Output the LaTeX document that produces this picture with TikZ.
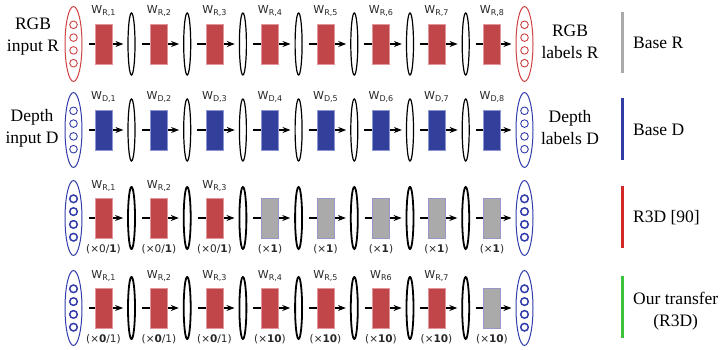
\documentclass[tikz,border=0pt]{standalone}
\usepackage{fontspec}
\setmainfont{Liberation Serif}
\newfontfamily\wfont{DejaVu Sans}
\usetikzlibrary{arrows.meta,shapes.geometric}
\definecolor{wred}{RGB}{193,70,73}
\definecolor{wredb}{RGB}{225,150,155}
\definecolor{wblue}{RGB}{51,64,155}
\definecolor{wblueb}{RGB}{140,150,210}
\definecolor{wgrey}{RGB}{170,170,170}
\definecolor{wgreyb}{RGB}{150,150,200}
\definecolor{ellR}{RGB}{205,65,65}
\definecolor{ellB}{RGB}{50,60,170}
\definecolor{barG}{RGB}{170,170,170}
\definecolor{barB}{RGB}{50,60,165}
\definecolor{barR}{RGB}{210,40,40}
\definecolor{barGr}{RGB}{60,195,60}
\newcommand{\wl}[2]{W\raisebox{-1.8pt}{\fontsize{8}{9}\selectfont #1}}
\begin{document}
\begin{tikzpicture}[x=1pt,y=-1pt,
  inell/.style={draw, ellipse, minimum width=17pt, minimum height=75pt, inner sep=0pt, line width=1pt},
  hid/.style={draw, ellipse, minimum width=7pt, minimum height=62pt, inner sep=0pt},
  wbox/.style={rectangle, minimum width=17pt, minimum height=40pt, inner sep=0pt, line width=0.5pt},
  redbox/.style={wbox, fill=wred, draw=wredb},
  bluebox/.style={wbox, fill=wblue, draw=wblueb},
  greybox/.style={wbox, fill=wgrey, draw=wgreyb},
  arr/.style={-{Stealth[length=8pt,width=6pt]}, line width=1.2pt, shorten <=6pt, shorten >=4pt},
  wlab/.style={font=\wfont\fontsize{11}{12}\selectfont, inner sep=0pt, anchor=base, text=black!85},
  mlab/.style={font=\wfont\fontsize{10.5}{12}\selectfont, inner sep=0pt, text=black!85},
  txt/.style={font=\fontsize{17.5}{22}\selectfont, align=center, inner sep=0pt},
  bar/.style={line width=3pt}]
\useasboundingbox (0,0) rectangle (724,350);

% ellipses, circles and arrows per row
\foreach \r/\Y/\ic/\hw/\cw in {1/44/ellR/1.2/0.9,2/130/ellB/1.2/0.9,3/218/ellB/1.8/1.5,4/308/ellB/1.8/1.5}{
  \node[inell, draw=\ic] (e\r-0) at (73.5,\Y) {};
  \node[inell, draw=\ic] (e\r-8) at (524.5,\Y) {};
  \foreach \k in {-1.5,-0.5,0.5,1.5}{
    \draw[\ic, line width=\cw pt] (73.5,{\Y+12.8*\k}) circle (3.8);
    \draw[\ic, line width=\cw pt] (524.5,{\Y+12.8*\k}) circle (3.8);
  }
  \foreach \i in {1,...,7}
    \node[hid, line width=\hw pt] (e\r-\i) at ({131.5+55.7*(\i-1)},\Y) {};
  \foreach \i [evaluate=\i as \j using int(\i-1)] in {1,...,8}
    \draw[arr] (e\r-\j) -- (e\r-\i);
}

% weight boxes
\foreach \i in {1,...,8}{
  \node[redbox] (r1-\i) at ({103.5+55.5*(\i-1)},44) {};
  \node[wlab] (w1-\i) at ({103.5+55.5*(\i-1)},14) {\wl{R,\i}{}};
  \node[bluebox] (r2-\i) at ({103.5+55.5*(\i-1)},130) {};
  \node[wlab] (w2-\i) at ({103.5+55.5*(\i-1)},100) {\wl{D,\i}{}};
}
\foreach \i/\s in {1/redbox,2/redbox,3/redbox,4/greybox,5/greybox,6/greybox,7/greybox,8/greybox}
  \node[\s] (r3-\i) at ({103.5+55.5*(\i-1)},218) {};
\foreach \i/\s in {1/redbox,2/redbox,3/redbox,4/redbox,5/redbox,6/redbox,7/redbox,8/greybox}
  \node[\s] (r4-\i) at ({103.5+55.5*(\i-1)},308) {};
\foreach \i in {1,2,3}
  \node[wlab] (w3-\i) at ({103.5+55.5*(\i-1)},189) {\wl{R,\i}{}};
\foreach \i/\t in {1/{R,1},2/{R,2},3/{R,3},4/{R,4},5/{R,5},6/{R6},7/{R,7}}
  \node[wlab] (w4-\i) at ({103.5+55.5*(\i-1)},279) {\wl{\t}{}};

% multipliers
\foreach \i in {1,2,3}{
  \node[mlab] (m3-\i) at (r3-\i.south) [yshift=-10.5pt] {(×0/\textbf{1})};
  \node[mlab] (m4-\i) at (r4-\i.south) [yshift=-11pt] {(×\textbf{0}/1)};
}
\foreach \i in {4,...,8}{
  \node[mlab] (m3-\i) at (r3-\i.south) [yshift=-10.5pt] {(×\textbf{1})};
  \node[mlab] (m4-\i) at (r4-\i.south) [yshift=-11pt] {(×\textbf{10})};
}

% side labels
\node[txt] (inR) at (33,37) {RGB\\input R};
\node[txt] (inD) at (32,128) {Depth\\input D};
\node[txt] (outR) at (570,42) {RGB\\labels R};
\node[txt] (outD) at (570,128) {Depth\\labels D};

% legend bars
\draw[bar, barG] (622,12) -- (622,73);
\draw[bar, barB] (622,98) -- (622,160);
\draw[bar, barR] (622,186) -- (622,248);
\draw[bar, barGr] (622,276) -- (622,338);
\node[txt, anchor=west] (lR) at (633,43) {Base R};
\node[txt, anchor=west] (lD) at (633,130) {Base D};
\node[txt, anchor=west] (l3) at (633,218) {R3D [90]};
\node[txt, anchor=west] (l4) at (633,311) {Our transfer\\(R3D)};
\end{tikzpicture}
\end{document}
